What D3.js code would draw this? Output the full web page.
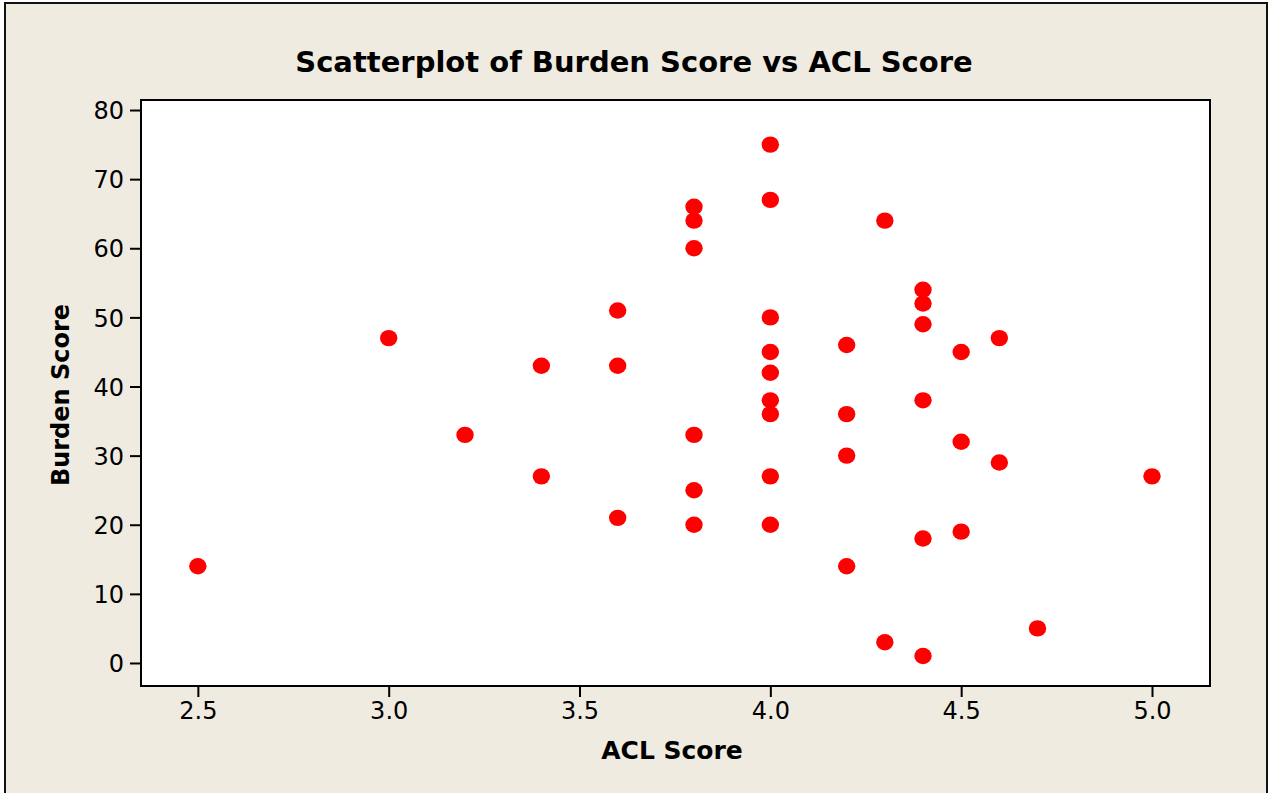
<!DOCTYPE html>
<html lang="en">
<head>
<meta charset="UTF-8">
<title>Scatterplot of Burden Score vs ACL Score</title>
<style>
  body { margin: 0; background: #fff; }
  svg { display: block; }
  .tick text { font-family: "DejaVu Sans", Verdana, sans-serif; font-size: 24px; fill: #000; }
  .tick line { stroke: #000; stroke-width: 2; }
  .domain { display: none; }
  .label { font-family: "DejaVu Sans", Verdana, sans-serif; font-weight: bold; fill: #000; }
</style>
</head>
<body>
<svg></svg>
<script src="https://d3js.org/d3.v7.min.js"></script>
<script>
// ACL Score vs Burden Score
var aclScore = [2.5, 3.0, 3.2, 3.4, 3.4, 3.6, 3.6, 3.6,
                3.8, 3.8, 3.8, 3.8, 3.8, 3.8,
                4.0, 4.0, 4.0, 4.0, 4.0, 4.0, 4.0, 4.0, 4.0,
                4.2, 4.2, 4.2, 4.2, 4.3, 4.3,
                4.4, 4.4, 4.4, 4.4, 4.4, 4.4,
                4.5, 4.5, 4.5, 4.6, 4.6, 4.7, 5.0];
var burdenScore = [14, 47, 33, 43, 27, 51, 43, 21,
                   66, 64, 60, 33, 25, 20,
                   75, 67, 50, 45, 42, 38, 36, 27, 20,
                   46, 36, 30, 14, 64, 3,
                   54, 52, 49, 38, 18, 1,
                   45, 32, 19, 47, 29, 5, 27];
var xTicks = [2.5, 3.0, 3.5, 4.0, 4.5, 5.0];
var yTicks = [0, 10, 20, 30, 40, 50, 60, 70, 80];

var width = 1275, height = 793;
var margin = {top: 100, right: 65, bottom: 107, left: 141};
var iw = width - margin.left - margin.right;
var ih = height - margin.top - margin.bottom;

var svg = d3.select("svg").attr("width", width).attr("height", height);

// outer frame
svg.append("rect")
    .attr("x", 5).attr("y", 3)
    .attr("width", 1262).attr("height", 800)
    .attr("fill", "#efebe1")
    .attr("stroke", "#111")
    .attr("stroke-width", 2);

var x = d3.scaleLinear().domain([2.351, 5.152]).range([0, iw]);
var y = d3.scaleLinear().domain([-3.33, 81.45]).range([ih, 0]);

var g = svg.append("g").attr("transform", "translate(" + margin.left + "," + margin.top + ")");

g.append("rect")
    .attr("width", iw).attr("height", ih)
    .attr("fill", "#fff")
    .attr("stroke", "#000")
    .attr("stroke-width", 2);

g.append("g")
    .attr("transform", "translate(0," + ih + ")")
    .call(d3.axisBottom(x).tickValues(xTicks).tickFormat(d3.format(".1f")).tickSize(11).tickPadding(5));

g.append("g")
    .call(d3.axisLeft(y).tickValues(yTicks).tickSize(11).tickPadding(6))
    .selectAll(".tick text").attr("dy", "0.36em");

g.selectAll(".dot")
    .data(aclScore)
    .enter()
    .append("ellipse")
    .attr("class", "dot")
    .attr("cx", function(d) { return x(d); })
    .attr("cy", function(d, i) { return y(burdenScore[i]); })
    .attr("rx", 8.7)
    .attr("ry", 8.2)
    .attr("fill", "#ff0000");

svg.append("text")
    .attr("class", "label")
    .attr("x", 634).attr("y", 72)
    .attr("text-anchor", "middle")
    .style("font-size", "29px")
    .text("Scatterplot of Burden Score vs ACL Score");

svg.append("text")
    .attr("class", "label")
    .attr("x", 672).attr("y", 759)
    .attr("text-anchor", "middle")
    .style("font-size", "25px")
    .text("ACL Score");

svg.append("text")
    .attr("class", "label")
    .attr("transform", "translate(69,395) rotate(-90)")
    .attr("text-anchor", "middle")
    .style("font-size", "24px")
    .text("Burden Score");
</script>
</body>
</html>
